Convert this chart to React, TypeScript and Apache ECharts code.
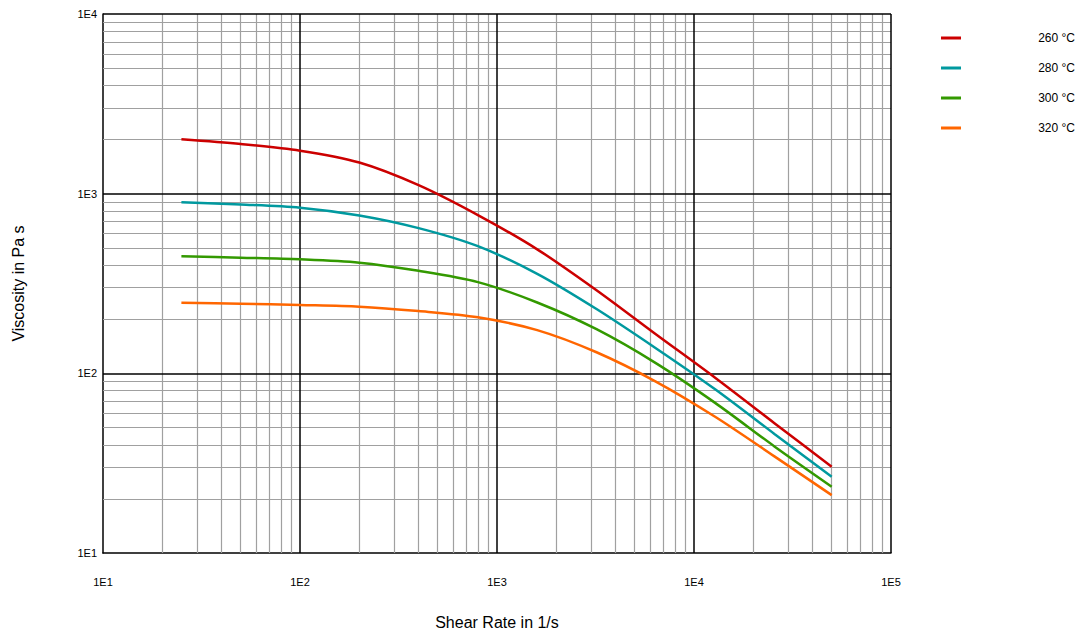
import React, { useEffect, useRef } from "react";
import * as echarts from "echarts";

const shearRates = [25, 50, 100, 200, 400, 800, 1600, 3200, 6400, 12800, 25600, 50000];
const visc260 = [2010, 1890, 1735, 1490, 1115, 760, 490, 290, 165, 94.5, 52.8, 30.2];
const visc280 = [896, 870, 835, 756, 643, 510, 358, 228, 138, 81.5, 46, 26.6];
const visc300 = [448, 440, 431, 413, 372, 322, 248, 176, 114, 68.5, 39.2, 23.4];
const visc320 = [247, 244, 240, 235, 222, 205, 174, 131, 90, 57.3, 34.5, 21];

const seriesNames = ["260 °C", "280 °C", "300 °C", "320 °C"];
const seriesColors = ["#cc0000", "#00999f", "#339900", "#ff6600"];
const seriesValues = [visc260, visc280, visc300, visc320];

const xDecades = [10, 100, 1000, 10000, 100000];
const yDecades = [10, 100, 1000, 10000];
const minorSteps = [2, 3, 4, 5, 6, 7, 8, 9];

const FONT = "'Liberation Sans', Arial, sans-serif";

export default function App() {
  const ref = useRef<HTMLDivElement>(null);
  useEffect(() => {
    if (!ref.current) return;
    const chart = echarts.init(ref.current, undefined, { renderer: "svg" });

    const minorX: any[] = [];
    xDecades.slice(0, -1).forEach((d) => minorSteps.forEach((m) => minorX.push({ xAxis: d * m })));
    const minorY: any[] = [];
    yDecades.slice(0, -1).forEach((d) => minorSteps.forEach((m) => minorY.push({ yAxis: d * m })));
    const majorLines: any[] = [
      ...xDecades.slice(1).map((v) => ({ xAxis: v })),
      ...yDecades.slice(1).map((v) => ({ yAxis: v })),
    ];

    const gridSeries = (name: string, data: any[], color: string, width: number, z: number) => ({
      name,
      type: "line",
      data: [],
      z,
      silent: true,
      markLine: {
        silent: true,
        symbol: ["none", "none"],
        label: { show: false },
        emphasis: { disabled: true },
        lineStyle: { color, width, type: "solid" },
        data,
        animation: false,
      },
    });

    const fmt = (v: number) => "1E" + Math.round(Math.log10(v));

    chart.setOption({
      animation: false,
      textStyle: { fontFamily: FONT },
      grid: { left: 103, right: 190, top: 14, bottom: 86, containLabel: false },
      legend: {
        data: seriesNames,
        orient: "vertical",
        left: 936,
        top: 27,
        icon: "rect",
        itemWidth: 20,
        itemHeight: 3,
        itemGap: 18,
        selectedMode: false,
        formatter: "{a|{name}}",
        textStyle: {
          fontFamily: FONT,
          fontSize: 12,
          color: "#000",
          rich: { a: { width: 109, align: "right", fontSize: 12, lineHeight: 14, fontFamily: FONT, color: "#000" } },
        },
      },
      xAxis: {
        type: "log",
        logBase: 10,
        min: 10,
        max: 100000,
        name: "Shear Rate in 1/s",
        nameLocation: "middle",
        nameGap: 61,
        nameTextStyle: { fontSize: 16, color: "#000", fontFamily: FONT },
        axisLine: { show: true, lineStyle: { color: "#000", width: 1.5 } },
        axisTick: { show: false },
        splitLine: { show: false },
        axisLabel: { formatter: fmt, fontSize: 11, color: "#000", margin: 23, fontFamily: FONT },
      },
      yAxis: {
        type: "log",
        logBase: 10,
        min: 10,
        max: 10000,
        name: "Viscosity in Pa s",
        nameLocation: "middle",
        nameGap: 77,
        nameTextStyle: { fontSize: 16, color: "#000", fontFamily: FONT },
        axisLine: { show: true, lineStyle: { color: "#000", width: 1.5 } },
        axisTick: { show: false },
        splitLine: { show: false },
        axisLabel: { formatter: fmt, fontSize: 11, color: "#000", margin: 6, fontFamily: FONT },
      },
      series: [
        gridSeries("minor", [...minorX, ...minorY], "#a0a0a0", 1.2, 1),
        gridSeries("major", majorLines, "#000", 1.5, 2),
        ...seriesNames.map((name, i) => ({
          name,
          type: "line",
          z: 5,
          smooth: 0.3,
          showSymbol: false,
          symbol: "none",
          color: seriesColors[i],
          lineStyle: { color: seriesColors[i], width: 2.5 },
          data: shearRates.map((x, j) => [x, seriesValues[i][j]]),
        })),
      ],
    });
    return () => chart.dispose();
  }, []);
  return <div ref={ref} style={{ width: 1081, height: 639, position: "absolute", left: 0, top: 0 }} />;
}
